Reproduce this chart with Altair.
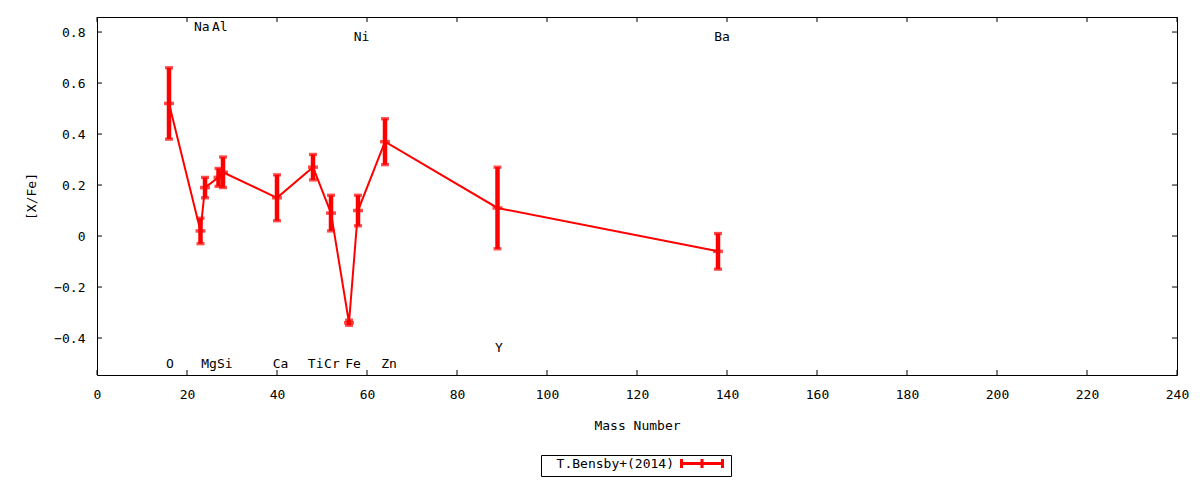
import altair as alt
import pandas as pd

# ---- data ----
elements = ["O", "Na", "Mg", "Al", "Si", "Ca", "Ti", "Cr", "Fe", "Ni", "Zn", "Y", "Ba"]
mass = [16, 23, 24, 27, 28, 40, 48, 52, 56, 58, 64, 89, 138]
xfe = [0.52, 0.02, 0.19, 0.23, 0.25, 0.15, 0.27, 0.09, -0.34, 0.10, 0.37, 0.11, -0.06]
err = [0.14, 0.05, 0.04, 0.035, 0.06, 0.09, 0.05, 0.07, 0.01, 0.06, 0.09, 0.16, 0.07]

label_text = ["O", "Na", "Mg", "Al", "Si", "Ca", "Ti", "Cr", "Fe", "Ni", "Zn", "Y", "Ba"]
label_x = [16.2, 23.3, 24.9, 27.3, 28.4, 40.8, 48.6, 52.2, 56.9, 58.8, 64.9, 89.3, 138.9]
label_y = [-0.50, 0.82, -0.50, 0.82, -0.50, -0.50, -0.50, -0.50, -0.50, 0.78, -0.50, -0.44, 0.78]

x_ticks = [0, 20, 40, 60, 80, 100, 120, 140, 160, 180, 200, 220, 240]
y_ticks = [-0.4, -0.2, 0, 0.2, 0.4, 0.6, 0.8]
series_name = "T.Bensby+(2014)"

FONT = "DejaVu Sans Mono"
FS = 13
RED = "#ff0000"
W, H = 1080, 358
TICK = 5

df = pd.DataFrame({
    "element": elements,
    "mass": mass,
    "xfe": xfe,
    "lo": [v - e for v, e in zip(xfe, err)],
    "hi": [v + e for v, e in zip(xfe, err)],
    "series": [series_name] * len(elements),
})
labels = pd.DataFrame({"text": label_text, "x": label_x, "y": label_y})
xt = pd.DataFrame({"v": x_ticks})
yt = pd.DataFrame({"v": y_ticks})

xscale = alt.Scale(domain=[0, 240], nice=False, zero=False)
yscale = alt.Scale(domain=[-0.545, 0.859], nice=False, zero=False)

x_axis = alt.Axis(values=x_ticks, orient="bottom", ticks=False, domain=False, grid=False,
                  labelPadding=13, titlePadding=18,
                  labelFont=FONT, labelFontSize=FS, titleFont=FONT, titleFontSize=FS,
                  titleFontWeight="normal", labelColor="black", titleColor="black",
                  labelFlush=False)
y_axis = alt.Axis(values=y_ticks, orient="left", ticks=False, domain=False, grid=False,
                  labelPadding=12, titlePadding=15,
                  labelFont=FONT, labelFontSize=FS, titleFont=FONT, titleFontSize=FS,
                  titleFontWeight="normal", labelColor="black", titleColor="black",
                  format="~g", labelFlush=False)


def X(field):
    return alt.X(field, scale=xscale, axis=x_axis, title="Mass Number")


def Y(field):
    return alt.Y(field, scale=yscale, axis=y_axis, title="[X/Fe]")


# gnuplot-style key: text first, then an errorbar sample drawn to its right
key_symbol = "M2.8,0H11M2.8,-0.9V0.9M11,-0.9V0.9M6.9,-0.9V0.9"

base = alt.Chart(df)

line = base.mark_line(strokeWidth=2).encode(
    x=X("mass:Q"),
    y=Y("xfe:Q"),
    color=alt.Color("series:N", scale=alt.Scale(domain=[series_name], range=[RED]),
                    legend=alt.Legend(
                        title=None,
                        labelAlign="right", labelOffset=0, labelFont=FONT,
                        labelFontSize=FS, labelColor="black", labelLimit=300,
                        orient="none", legendX=444, legendY=438,
                        symbolType=key_symbol, symbolSize=100, symbolOffset=118,
                        symbolStrokeWidth=3,
                        symbolFillColor="transparent", symbolStrokeColor=RED,
                        strokeColor="black", padding=2, fillColor="white")),
)

bars = base.mark_rule(strokeWidth=4.5, color=RED).encode(
    x=X("mass:Q"), y=Y("lo:Q"), y2="hi:Q")
cap_lo = base.mark_tick(orient="horizontal", size=8, thickness=3.3, color=RED).encode(
    x=X("mass:Q"), y=Y("lo:Q"))
cap_hi = base.mark_tick(orient="horizontal", size=8, thickness=3.3, color=RED).encode(
    x=X("mass:Q"), y=Y("hi:Q"))
center = base.mark_tick(orient="horizontal", size=10, thickness=3.5, color=RED).encode(
    x=X("mass:Q"), y=Y("xfe:Q"))

text = alt.Chart(labels).mark_text(font=FONT, fontSize=FS, color="black",
                                   align="center", baseline="middle").encode(
    x=X("x:Q"), y=Y("y:Q"), text="text:N")

# inward tick marks on all four sides (gnuplot style)
tb = alt.Chart(xt).mark_rule(color="black", strokeWidth=1).encode(
    x=X("v:Q"), y=alt.value(H), y2=alt.value(H - TICK))
tt = alt.Chart(xt).mark_rule(color="black", strokeWidth=1).encode(
    x=X("v:Q"), y=alt.value(0), y2=alt.value(TICK))
tl = alt.Chart(yt).mark_rule(color="black", strokeWidth=1).encode(
    y=Y("v:Q"), x=alt.value(0), x2=alt.value(TICK))
tr = alt.Chart(yt).mark_rule(color="black", strokeWidth=1).encode(
    y=Y("v:Q"), x=alt.value(W), x2=alt.value(W - TICK))

chart = alt.layer(line, bars, cap_lo, cap_hi, center, text, tb, tt, tl, tr).properties(
    width=W, height=H,
    autosize=alt.AutoSizeParams(type="none"),
    padding={"left": 89, "top": 9, "right": 15, "bottom": 104},
).configure_view(stroke="black", strokeWidth=1)

chart.save("out.html", embed_options={"renderer": "svg", "actions": False})
